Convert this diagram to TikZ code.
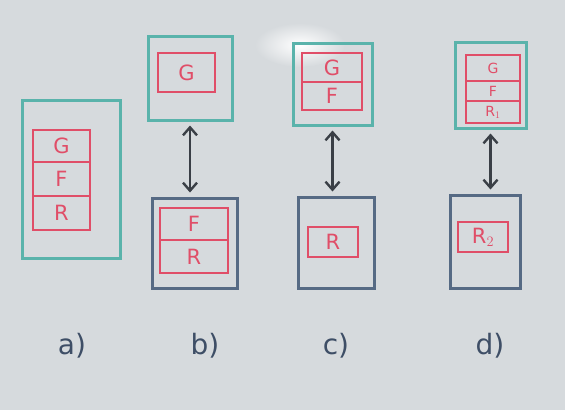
\documentclass[tikz,border=0pt]{standalone}
\usepackage{fontspec}
\setmainfont{DejaVu Sans}
\usetikzlibrary{arrows.meta}
\definecolor{board}{HTML}{D6DADD}
\definecolor{tealink}{HTML}{5AB3AB}
\definecolor{slateink}{HTML}{566A84}
\definecolor{redink}{HTML}{E04E68}
\definecolor{darkink}{HTML}{3A3F46}
\definecolor{labelink}{HTML}{3E4E66}
\tikzset{
  outerteal/.style={draw=tealink, line width=3pt, fill=none, inner sep=0pt},
  outerslate/.style={draw=slateink, line width=3pt, fill=none, inner sep=0pt},
  cell/.style={draw=redink, line width=2.2pt, inner sep=0pt, text=redink,
    font=\fontsize{21}{21}\selectfont},
  smallcell/.style={cell, font=\fontsize{14}{14}\selectfont},
  link/.style={draw=darkink, line width=2.4pt, {Straight Barb[length=8pt,width=14pt]}-{Straight Barb[length=8pt,width=14pt]}, shorten <=4pt, shorten >=4pt},
  caption/.style={text=labelink, font=\fontsize{28}{28}\selectfont}
}
\begin{document}
\begin{tikzpicture}[x=1pt,y=-1pt]
  % whiteboard surface with a glare spot
  \fill[board] (0,0) rectangle (565,410);
  \shade[inner color=white, outer color=board] (300,45) ellipse (45 and 22);
  \useasboundingbox (0,0) rectangle (565,410);

  % a) single stack
  \node[outerteal, minimum width=98, minimum height=158] (a) at (71,179) {};
  \node[cell, minimum width=57, minimum height=32] (aG) at (61.5,146) {G};
  \node[cell, minimum width=57, minimum height=34] (aF) at (61.5,179) {F};
  \node[cell, minimum width=57, minimum height=34] (aR) at (61.5,213) {R};

  % b) G on top, F and R below
  \node[outerteal, minimum width=84, minimum height=84] (bt) at (190,78) {};
  \node[cell, minimum width=57, minimum height=39] (bG) at (186.5,72.5) {G};
  \node[outerslate, minimum width=85, minimum height=90] (bb) at (194.5,243) {};
  \node[cell, minimum width=68, minimum height=32] (bF) at (194,224) {F};
  \node[cell, minimum width=68, minimum height=33] (bR) at (194,256.5) {R};
  \draw[link] (bt.south) -- (bt.south |- bb.north);

  % c) G and F on top, R below
  \node[outerteal, minimum width=79, minimum height=82] (ct) at (332.5,84) {};
  \node[cell, minimum width=60, minimum height=29] (cG) at (332,67.5) {G};
  \node[cell, minimum width=60, minimum height=28] (cF) at (332,96) {F};
  \node[outerslate, minimum width=76, minimum height=91] (cb) at (336,242.5) {};
  \node[cell, minimum width=50, minimum height=30] (cR) at (333,242) {R};
  \draw[link] (ct.south) -- (ct.south |- cb.north);

  % d) G, F and R1 on top, R2 below
  \node[outerteal, minimum width=71, minimum height=86] (dt) at (490.5,85) {};
  \node[smallcell, minimum width=54, minimum height=26] (dG) at (493,68) {G};
  \node[smallcell, minimum width=54, minimum height=20] (dF) at (493,91) {F};
  \node[smallcell, minimum width=54, minimum height=22] (dR) at (493,112) {R$_1$};
  \node[outerslate, minimum width=70, minimum height=93] (db) at (485,241.5) {};
  \node[cell, minimum width=50, minimum height=30] (dR2) at (483,237) {R$_2$};
  \draw[link] (dt.south) -- (dt.south |- db.north);

  % captions
  \node[caption] (la) at (72,346) {a)};
  \node[caption] (lb) at (205,346) {b)};
  \node[caption] (lc) at (336,346) {c)};
  \node[caption] (ld) at (490,346) {d)};
\end{tikzpicture}
\end{document}
